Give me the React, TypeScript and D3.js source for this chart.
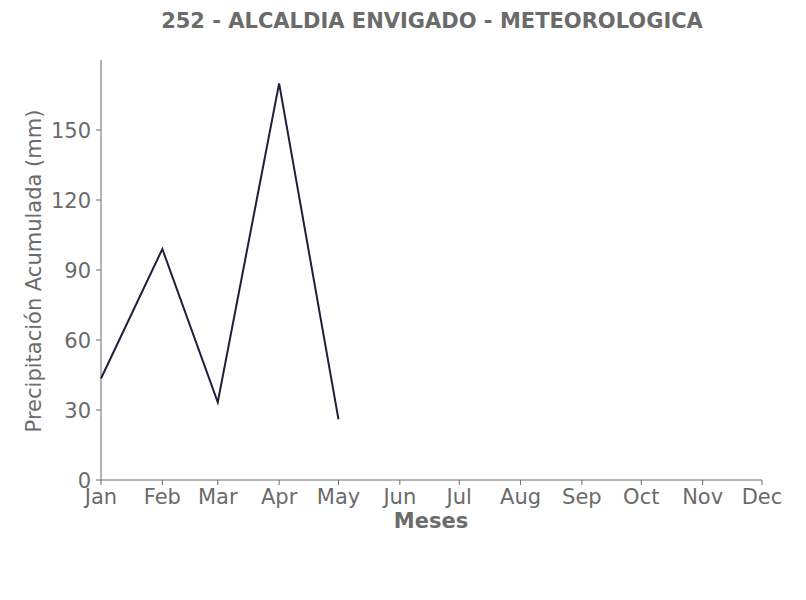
import React from "react";
import * as d3 from "d3";

const months = ["Jan", "Feb", "Mar", "Apr", "May", "Jun", "Jul", "Aug", "Sep", "Oct", "Nov", "Dec"];
const precipMonths = ["Jan", "Feb", "Mar", "Apr", "May"];
const precipValues = [43.5, 99, 33.3, 170, 26];
const yTicks = [0, 30, 60, 90, 120, 150];
const title = "252 - ALCALDIA ENVIGADO - METEOROLOGICA";
const xLabel = "Meses";
const yLabel = "Precipitación Acumulada (mm)";

const W = 806;
const H = 600;
const M = { left: 101, right: 44, top: 60, bottom: 120 };
const YEAR = 2023;
const FONT = "DejaVu Sans, sans-serif";
const FS = 21;
const TXT = "#6b6b6b";
const AXIS = "#6b6b6b";

export default function App() {
  const monthDate = (m: string) => new Date(YEAR, months.indexOf(m), 1);
  const x = d3
    .scaleTime()
    .domain([monthDate("Jan"), monthDate("Dec")])
    .range([M.left, W - M.right]);
  const y = d3.scaleLinear().domain([0, 180]).range([H - M.bottom, M.top]);
  const data = precipMonths.map((m, i) => ({ d: monthDate(m), v: precipValues[i] }));
  const line = d3
    .line<{ d: Date; v: number }>()
    .x((p) => x(p.d))
    .y((p) => y(p.v));
  const xTicks = months.map(monthDate);
  const fmt = d3.timeFormat("%b");
  const y0 = y(0);

  return (
    <svg width={W} height={H} style={{ display: "block", position: "absolute", left: 0, top: 0, background: "#fff" }}>
      <text x={432} y={28} textAnchor="middle" fontFamily={FONT} fontWeight="bold" fontSize={FS} fill={TXT}>
        {title}
      </text>
      <line x1={M.left} x2={M.left} y1={M.top} y2={y0} stroke={AXIS} strokeWidth={1} />
      <line x1={M.left} x2={W - M.right} y1={y0} y2={y0} stroke={AXIS} strokeWidth={1} />
      {yTicks.map((t) => (
        <g key={t}>
          <line x1={M.left - 5} x2={M.left} y1={y(t)} y2={y(t)} stroke={AXIS} />
          <text x={M.left - 10} y={y(t)} dy="0.36em" textAnchor="end" fontFamily={FONT} fontSize={FS} fill={TXT}>
            {t}
          </text>
        </g>
      ))}
      {xTicks.map((t, i) => (
        <g key={i}>
          <line x1={x(t)} x2={x(t)} y1={y0} y2={y0 + 5} stroke={AXIS} />
          <text x={x(t)} y={y0 + 8} dy="0.76em" textAnchor="middle" fontFamily={FONT} fontSize={FS} fill={TXT}>
            {fmt(t)}
          </text>
        </g>
      ))}
      <text x={431} y={528} textAnchor="middle" fontFamily={FONT} fontWeight="bold" fontSize={FS} fill={TXT}>
        {xLabel}
      </text>
      <text
        transform={`translate(41, 271) rotate(-90)`}
        textAnchor="middle"
        fontFamily={FONT}
        fontSize={FS}
        fill={TXT}
      >
        {yLabel}
      </text>
      <path d={line(data) || ""} fill="none" stroke="#1f1f3d" strokeWidth={2} />
    </svg>
  );
}
